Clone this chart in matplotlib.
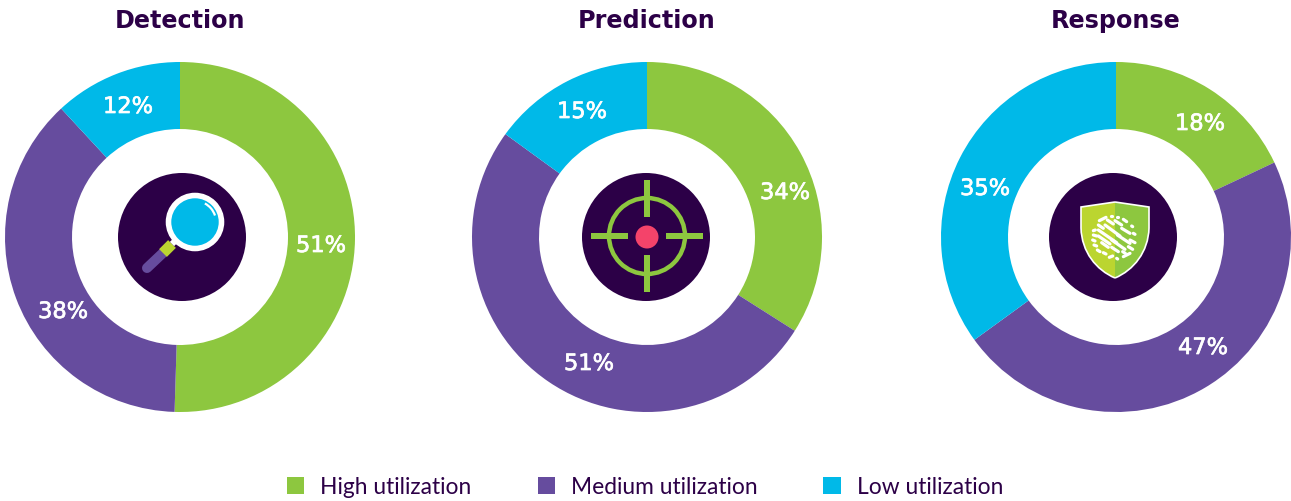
from matplotlib import pyplot as plt
from matplotlib import patheffects
from matplotlib.patches import Circle, Arc, PathPatch
from matplotlib.path import Path

titles = ['Detection', 'Prediction', 'Response']
categories = ['High utilization', 'Medium utilization', 'Low utilization']
detection = [51, 38, 12]
prediction = [34, 51, 15]
response = [18, 47, 35]
series = [detection, prediction, response]

GREEN = '#8DC73F'
PURPLE = '#664C9E'
BLUE = '#00B9E8'
DARK = '#2C0047'
colors = [GREEN, PURPLE, BLUE]

# layout, all in image pixels
centers = [(180, 237), (647, 237), (1116, 237)]
icon_centers = [(182, 237), (646, 237), (1113, 237)]
label_pos = [
    [(321, 246), (63, 312), (128, 107)],
    [(785, 193), (589, 364), (582, 112)],
    [(1200, 124), (1203, 348), (985, 189)],
]

plt.rcParams['font.family'] = ['DejaVu Sans']

fig = plt.figure(figsize=(12.91, 5.01), dpi=100)
ax = fig.add_axes([0, 0, 1, 1])


def bar(p0, p1, color, width, cap='butt'):
    ax.plot([p0[0], p1[0]], [p0[1], p1[1]], color=color, lw=width * 0.72,
            solid_capstyle=cap, zorder=5)


def draw_magnifier():
    bar((147, 268), (165, 251), PURPLE, 10, 'round')
    bar((163, 253), (172, 244), '#BBD530', 11)
    bar((172, 244), (180, 236), 'white', 6)
    ax.add_patch(Circle((195, 222), 26.5, fc=BLUE, ec='white', lw=4, zorder=6))
    ax.add_patch(Arc((195, 222), 42, 42, theta1=-62, theta2=-18, color='white',
                     lw=1.6, zorder=7))


def draw_target():
    cx, cy = 647, 236
    ax.add_patch(Circle((cx, cy), 38, fc='none', ec=GREEN, lw=3.2, zorder=5))
    for sx, sy in [(0, -1), (0, 1), (-1, 0), (1, 0)]:
        bar((cx + 19 * sx, cy + 19 * sy), (cx + 56 * sx, cy + 56 * sy), GREEN, 6)
    ax.add_patch(Circle((cx, cy + 1), 11.5, fc='#F4436A', ec='none', zorder=6))


def half_shield(cx, s):
    # s is the signed half width, path goes from the top of the centre line
    verts = [(cx, 202), (cx + s, 207), (cx + s, 228),
             (cx + s * 0.98, 252), (cx + s * 0.55, 270), (cx, 278), (cx, 202)]
    codes = [Path.MOVETO, Path.LINETO, Path.LINETO,
             Path.CURVE4, Path.CURVE4, Path.CURVE4, Path.CLOSEPOLY]
    return Path(verts, codes)


def draw_shield():
    cx = 1115
    ax.add_patch(PathPatch(half_shield(cx, -34), fc='#BBD530', ec='none', zorder=5))
    ax.add_patch(PathPatch(half_shield(cx, 34), fc=GREEN, ec='none', zorder=5))
    # white outline only on the outside of the two halves
    for s in (-34, 34):
        p = half_shield(cx, s)
        outline = Path(p.vertices[:6], p.codes[:6])
        ax.add_patch(PathPatch(outline, fc='none', ec='white', lw=1.2, zorder=6))
    dashes = [(58, 62, 78, 52), (92, 47, 95, 47), (112, 52, 115, 52),
              (82, 60, 100, 72), (105, 62, 125, 75), (130, 58, 140, 65),
              (40, 92, 46, 90), (55, 75, 70, 85), (75, 75, 120, 108),
              (125, 85, 150, 100), (155, 78, 158, 80),
              (40, 105, 50, 108), (55, 90, 110, 128), (112, 105, 150, 130),
              (160, 100, 165, 103), (38, 120, 45, 123), (55, 108, 90, 132),
              (95, 120, 135, 148), (150, 120, 165, 128), (42, 135, 50, 138),
              (65, 128, 85, 142), (95, 142, 115, 155), (145, 140, 158, 148),
              (52, 150, 60, 155), (70, 158, 78, 162), (88, 172, 98, 168),
              (110, 175, 113, 177), (130, 170, 150, 160), (128, 155, 136, 160)]
    for x0, y0, x1, y1 in dashes:
        ax.plot([1080 + x0 / 3, 1080 + x1 / 3], [200 + y0 / 3, 200 + y1 / 3],
                color='white', lw=2.3, solid_capstyle='round', zorder=7)


icons = [draw_magnifier, draw_target, draw_shield]

# DejaVu has no medium weight, a thin stroke gets the labels close to it
thicker = [patheffects.withStroke(linewidth=0.5, foreground='white')]

handles = None
for i, values in enumerate(series):
    # y axis points down here, so a rising angle runs clockwise on screen
    wedges, _ = ax.pie(values, colors=colors, center=centers[i], radius=175,
                       startangle=270, counterclock=True,
                       wedgeprops={'width': 67, 'linewidth': 0})
    if handles is None:
        handles = wedges
    ax.text(centers[i][0], 21, titles[i], ha='center', va='center', color=DARK,
            fontsize=17.2, fontweight='bold')
    for (x, y), v in zip(label_pos[i], values):
        ax.text(x, y, '%d%%' % v, ha='center', va='center', color='white',
                fontsize=16.2, zorder=4, path_effects=thicker)
    ax.add_patch(Circle(icon_centers[i], 64, fc=DARK, ec='none', zorder=3))
    icons[i]()

ax.set_xlim(0, 1291)
ax.set_ylim(501, 0)
ax.set_aspect('auto')
ax.axis('off')

fig.legend(handles, categories, loc='center left', bbox_to_anchor=(287 / 1291, 1 - 487 / 501),
           ncol=3, frameon=False, prop={'family': 'Lato', 'size': 16.4},
           labelcolor=DARK, handlelength=0.76, handleheight=0.76, handletextpad=0.7,
           columnspacing=2.9, borderpad=0, borderaxespad=0)

fig.savefig('out.png', dpi=100)
